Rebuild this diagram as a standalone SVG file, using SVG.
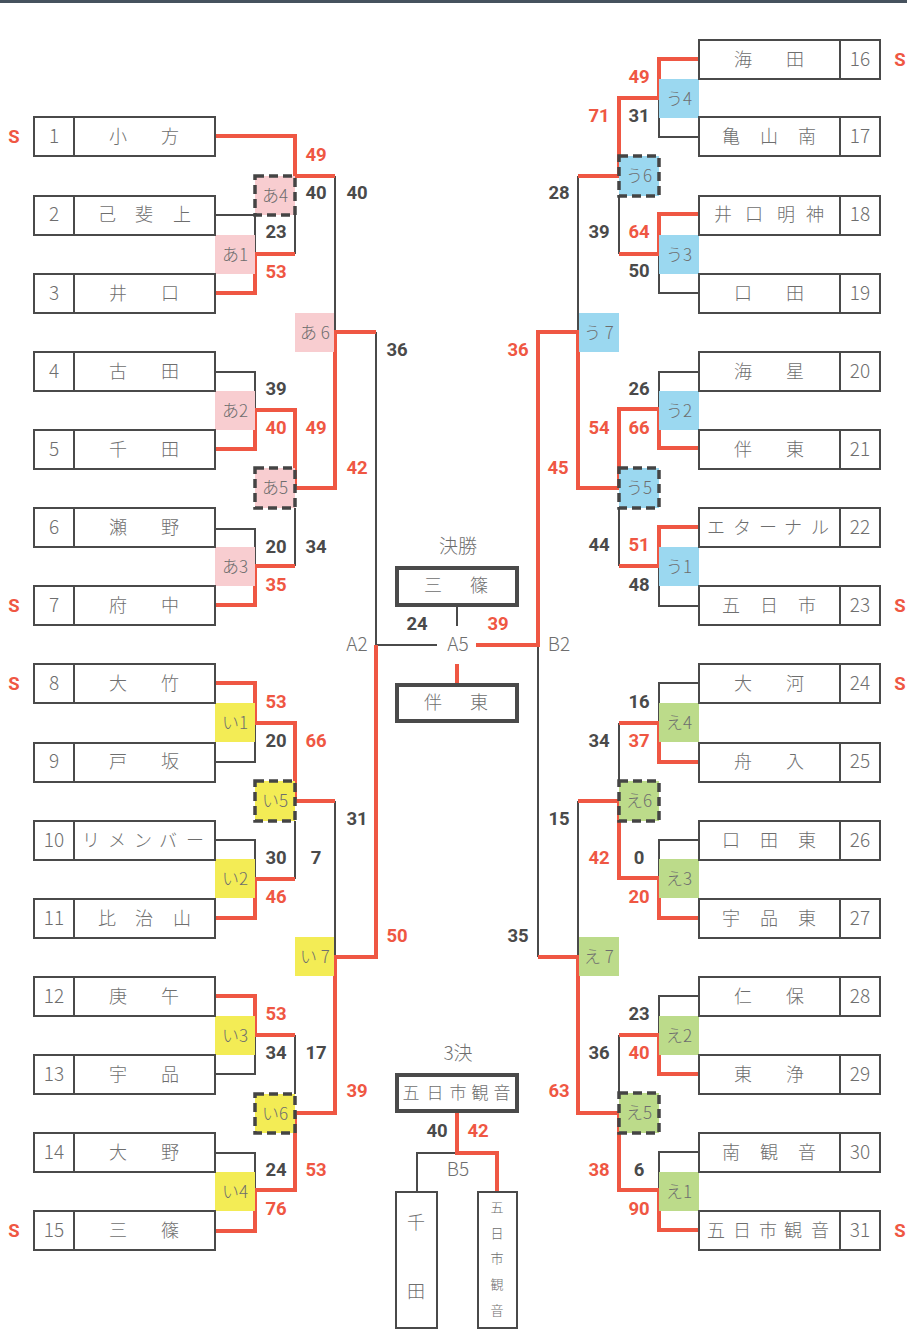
<svg xmlns="http://www.w3.org/2000/svg" width="907" height="1331" viewBox="0 0 907 1331">
<style>
.bx{fill:#fff;stroke:#4a4a4a;stroke-width:2}
.fb{fill:#fff;stroke:#4a4a4a;stroke-width:4}
.dv{stroke:#4a4a4a;stroke-width:2}
.ln{fill:none;stroke:#4a4a4a;stroke-width:2}
.rd{fill:none;stroke:#ef5743;stroke-width:4}
.nm{font-family:"Noto Sans CJK JP","Noto Sans",sans-serif;font-weight:300;font-size:18px;fill:#6e6e6e;text-anchor:middle}
.no{font-family:"Noto Sans CJK JP","Noto Sans",sans-serif;font-weight:300;font-size:19px;fill:#6e6e6e;text-anchor:middle}
.lb{font-family:"Noto Sans CJK JP","Noto Sans",sans-serif;font-weight:300;font-size:17px;fill:#6e6e6e;text-anchor:middle}
.sc{font-family:Roboto,"Liberation Sans",sans-serif;font-weight:bold;font-size:18.5px;fill:#4a4a4a;text-anchor:middle}
.sr{fill:#ef5743}
.s{font-family:Roboto,"Liberation Sans",sans-serif;font-weight:bold;font-size:18.5px;fill:#ef5743;text-anchor:middle}
.a{fill:#f8cdd0}.i{fill:#f3ec55}.u{fill:#9bd8f0}.e{fill:#bcdb8a}
.dsh{stroke:#444;stroke-width:3.5;stroke-dasharray:9 5}
</style>
<rect x="0" y="0" width="907" height="3" fill="#46525e"/>

<g id="connectors">
<path class="ln" d="M215 215H255V254M295 215V254M215 372H255V410M215 529H255V566M295 508V566M335 176V332M376 332V645M376 645H437M215 762H255V723M215 840H255V879M295 821V879M335 801V957M215 1074H255V1035M295 1035V1094M215 1153H255V1190"/>
<path class="ln" d="M699 137H659V98M699 293H659V254M619 196V254M578 176V332M699 372H659V409M699 606H659V566M619 508V566M538 645V957M699 683H659V723M619 723V780M699 840H659V878M578 801V957M699 996H659V1035M619 1035V1093M699 1152H659V1190"/>
<path class="ln" d="M457 607V626M457 1153H417V1192"/>
<path class="rd" d="M215 136H295V176H335M215 293H255V254H295M215 449H255V410H295V488H335V332H376M215 605H255V566H295M215 683H255V723H295V801H335M215 918H255V879H295M215 996H255V1035H295M215 1231H255V1190H295V1113H335V957H376V645"/>
<path class="rd" d="M699 59H659V98H619V176H578M699 214H659V254H619M699 448H659V409H619V488H578V332H538V645H476M699 527H659V566H619M699 762H659V723H619M699 918H659V878H619V801H578M699 1074H659V1035H619M699 1230H659V1190H619V1113H578V957H538"/>
<path class="rd" d="M457 664V685M457 1112V1153H497V1192"/>
</g>

<g id="match-labels">
<g id="a1"><rect class="a" x="215" y="235" width="40" height="39"/><text class="lb" x="235" y="261">あ1</text></g>
<g id="a2"><rect class="a" x="215" y="391" width="40" height="39"/><text class="lb" x="235" y="417">あ2</text></g>
<g id="a3"><rect class="a" x="215" y="547" width="40" height="39"/><text class="lb" x="235" y="573">あ3</text></g>
<g id="a4"><rect class="a dsh" x="255" y="176" width="40" height="39"/><text class="lb" x="275" y="202">あ4</text></g>
<g id="a5"><rect class="a dsh" x="255" y="468" width="40" height="40"/><text class="lb" x="275" y="494">あ5</text></g>
<g id="a6"><rect class="a" x="295" y="313" width="39" height="39"/><text class="lb" x="315" y="339">あ 6</text></g>
<g id="i1"><rect class="i" x="215" y="703" width="40" height="39"/><text class="lb" x="235" y="729">い1</text></g>
<g id="i2"><rect class="i" x="215" y="859" width="40" height="39"/><text class="lb" x="235" y="885">い2</text></g>
<g id="i3"><rect class="i" x="215" y="1016" width="40" height="39"/><text class="lb" x="235" y="1042">い3</text></g>
<g id="i4"><rect class="i" x="215" y="1172" width="40" height="39"/><text class="lb" x="235" y="1198">い4</text></g>
<g id="i5"><rect class="i dsh" x="255" y="781" width="40" height="40"/><text class="lb" x="275" y="807">い5</text></g>
<g id="i6"><rect class="i dsh" x="255" y="1094" width="40" height="39"/><text class="lb" x="275" y="1120">い6</text></g>
<g id="i7"><rect class="i" x="295" y="937" width="39" height="39"/><text class="lb" x="315" y="963">い 7</text></g>
<g id="u1"><rect class="u" x="659" y="547" width="40" height="39"/><text class="lb" x="679" y="573">う1</text></g>
<g id="u2"><rect class="u" x="659" y="391" width="40" height="39"/><text class="lb" x="679" y="417">う2</text></g>
<g id="u3"><rect class="u" x="659" y="235" width="40" height="39"/><text class="lb" x="679" y="261">う3</text></g>
<g id="u4"><rect class="u" x="659" y="79" width="40" height="39"/><text class="lb" x="679" y="105">う4</text></g>
<g id="u5"><rect class="u dsh" x="619" y="468" width="40" height="40"/><text class="lb" x="639" y="494">う5</text></g>
<g id="u6"><rect class="u dsh" x="619" y="156" width="40" height="40"/><text class="lb" x="639" y="182">う6</text></g>
<g id="u7"><rect class="u" x="579" y="313" width="40" height="39"/><text class="lb" x="599" y="339">う 7</text></g>
<g id="e1"><rect class="e" x="659" y="1172" width="40" height="39"/><text class="lb" x="679" y="1198">え1</text></g>
<g id="e2"><rect class="e" x="659" y="1016" width="40" height="39"/><text class="lb" x="679" y="1042">え2</text></g>
<g id="e3"><rect class="e" x="659" y="859" width="40" height="39"/><text class="lb" x="679" y="885">え3</text></g>
<g id="e4"><rect class="e" x="659" y="703" width="40" height="39"/><text class="lb" x="679" y="729">え4</text></g>
<g id="e5"><rect class="e dsh" x="619" y="1093" width="40" height="40"/><text class="lb" x="639" y="1119">え5</text></g>
<g id="e6"><rect class="e dsh" x="619" y="781" width="40" height="40"/><text class="lb" x="639" y="807">え6</text></g>
<g id="e7"><rect class="e" x="579" y="937" width="40" height="39"/><text class="lb" x="599" y="963">え 7</text></g>
</g>

<g id="teams-left">
<g id="t1"><rect class="bx" x="34" y="117" width="181" height="39"/><line class="dv" x1="74" y1="117" x2="74" y2="156"/><text class="no" x="54" y="143">1</text><text class="nm" x="118 170" y="143">小方</text></g>
<g id="t2"><rect class="bx" x="34" y="196" width="181" height="39"/><line class="dv" x1="74" y1="196" x2="74" y2="235"/><text class="no" x="54" y="221">2</text><text class="nm" x="107 144 182" y="221">己斐上</text></g>
<g id="t3"><rect class="bx" x="34" y="274" width="181" height="39"/><line class="dv" x1="74" y1="274" x2="74" y2="313"/><text class="no" x="54" y="300">3</text><text class="nm" x="118 170" y="300">井口</text></g>
<g id="t4"><rect class="bx" x="34" y="352" width="181" height="39"/><line class="dv" x1="74" y1="352" x2="74" y2="391"/><text class="no" x="54" y="378">4</text><text class="nm" x="118 170" y="378">古田</text></g>
<g id="t5"><rect class="bx" x="34" y="430" width="181" height="39"/><line class="dv" x1="74" y1="430" x2="74" y2="469"/><text class="no" x="54" y="456">5</text><text class="nm" x="118 170" y="456">千田</text></g>
<g id="t6"><rect class="bx" x="34" y="508" width="181" height="39"/><line class="dv" x1="74" y1="508" x2="74" y2="547"/><text class="no" x="54" y="534">6</text><text class="nm" x="118 170" y="534">瀬野</text></g>
<g id="t7"><rect class="bx" x="34" y="586" width="181" height="39"/><line class="dv" x1="74" y1="586" x2="74" y2="625"/><text class="no" x="54" y="612">7</text><text class="nm" x="118 170" y="612">府中</text></g>
<g id="t8"><rect class="bx" x="34" y="664" width="181" height="39"/><line class="dv" x1="74" y1="664" x2="74" y2="703"/><text class="no" x="54" y="690">8</text><text class="nm" x="118 170" y="690">大竹</text></g>
<g id="t9"><rect class="bx" x="34" y="743" width="181" height="39"/><line class="dv" x1="74" y1="743" x2="74" y2="782"/><text class="no" x="54" y="768">9</text><text class="nm" x="118 170" y="768">戸坂</text></g>
<g id="t10"><rect class="bx" x="34" y="821" width="181" height="39"/><line class="dv" x1="74" y1="821" x2="74" y2="860"/><text class="no" x="54" y="847">10</text><text class="nm" x="91 117 143 168 195" y="847">リメンバー</text></g>
<g id="t11"><rect class="bx" x="34" y="899" width="181" height="39"/><line class="dv" x1="74" y1="899" x2="74" y2="938"/><text class="no" x="54" y="925">11</text><text class="nm" x="107 144 182" y="925">比治山</text></g>
<g id="t12"><rect class="bx" x="34" y="977" width="181" height="39"/><line class="dv" x1="74" y1="977" x2="74" y2="1016"/><text class="no" x="54" y="1003">12</text><text class="nm" x="118 170" y="1003">庚午</text></g>
<g id="t13"><rect class="bx" x="34" y="1055" width="181" height="39"/><line class="dv" x1="74" y1="1055" x2="74" y2="1094"/><text class="no" x="54" y="1081">13</text><text class="nm" x="118 170" y="1081">宇品</text></g>
<g id="t14"><rect class="bx" x="34" y="1133" width="181" height="39"/><line class="dv" x1="74" y1="1133" x2="74" y2="1172"/><text class="no" x="54" y="1159">14</text><text class="nm" x="118 170" y="1159">大野</text></g>
<g id="t15"><rect class="bx" x="34" y="1211" width="181" height="39"/><line class="dv" x1="74" y1="1211" x2="74" y2="1250"/><text class="no" x="54" y="1237">15</text><text class="nm" x="118 170" y="1237">三篠</text></g>
</g>

<g id="teams-right">
<g id="t16"><rect class="bx" x="699" y="40" width="181" height="39"/><line class="dv" x1="840" y1="40" x2="840" y2="79"/><text class="no" x="860" y="66">16</text><text class="nm" x="743 795" y="66">海田</text></g>
<g id="t17"><rect class="bx" x="699" y="117" width="181" height="39"/><line class="dv" x1="840" y1="117" x2="840" y2="156"/><text class="no" x="860" y="143">17</text><text class="nm" x="731 769 807" y="143">亀山南</text></g>
<g id="t18"><rect class="bx" x="699" y="196" width="181" height="39"/><line class="dv" x1="840" y1="196" x2="840" y2="235"/><text class="no" x="860" y="221">18</text><text class="nm" x="723 754 786 815" y="221">井口明神</text></g>
<g id="t19"><rect class="bx" x="699" y="274" width="181" height="39"/><line class="dv" x1="840" y1="274" x2="840" y2="313"/><text class="no" x="860" y="300">19</text><text class="nm" x="743 795" y="300">口田</text></g>
<g id="t20"><rect class="bx" x="699" y="352" width="181" height="39"/><line class="dv" x1="840" y1="352" x2="840" y2="391"/><text class="no" x="860" y="378">20</text><text class="nm" x="743 795" y="378">海星</text></g>
<g id="t21"><rect class="bx" x="699" y="430" width="181" height="39"/><line class="dv" x1="840" y1="430" x2="840" y2="469"/><text class="no" x="860" y="456">21</text><text class="nm" x="743 795" y="456">伴東</text></g>
<g id="t22"><rect class="bx" x="699" y="508" width="181" height="39"/><line class="dv" x1="840" y1="508" x2="840" y2="547"/><text class="no" x="860" y="534">22</text><text class="nm" x="716 742 768 793 820" y="534">エターナル</text></g>
<g id="t23"><rect class="bx" x="699" y="586" width="181" height="39"/><line class="dv" x1="840" y1="586" x2="840" y2="625"/><text class="no" x="860" y="612">23</text><text class="nm" x="731 769 807" y="612">五日市</text></g>
<g id="t24"><rect class="bx" x="699" y="664" width="181" height="39"/><line class="dv" x1="840" y1="664" x2="840" y2="703"/><text class="no" x="860" y="690">24</text><text class="nm" x="743 795" y="690">大河</text></g>
<g id="t25"><rect class="bx" x="699" y="743" width="181" height="39"/><line class="dv" x1="840" y1="743" x2="840" y2="782"/><text class="no" x="860" y="768">25</text><text class="nm" x="743 795" y="768">舟入</text></g>
<g id="t26"><rect class="bx" x="699" y="821" width="181" height="39"/><line class="dv" x1="840" y1="821" x2="840" y2="860"/><text class="no" x="860" y="847">26</text><text class="nm" x="731 769 807" y="847">口田東</text></g>
<g id="t27"><rect class="bx" x="699" y="899" width="181" height="39"/><line class="dv" x1="840" y1="899" x2="840" y2="938"/><text class="no" x="860" y="925">27</text><text class="nm" x="731 769 807" y="925">宇品東</text></g>
<g id="t28"><rect class="bx" x="699" y="977" width="181" height="39"/><line class="dv" x1="840" y1="977" x2="840" y2="1016"/><text class="no" x="860" y="1003">28</text><text class="nm" x="743 795" y="1003">仁保</text></g>
<g id="t29"><rect class="bx" x="699" y="1055" width="181" height="39"/><line class="dv" x1="840" y1="1055" x2="840" y2="1094"/><text class="no" x="860" y="1081">29</text><text class="nm" x="743 795" y="1081">東浄</text></g>
<g id="t30"><rect class="bx" x="699" y="1133" width="181" height="39"/><line class="dv" x1="840" y1="1133" x2="840" y2="1172"/><text class="no" x="860" y="1159">30</text><text class="nm" x="731 769 807" y="1159">南観音</text></g>
<g id="t31"><rect class="bx" x="699" y="1211" width="181" height="39"/><line class="dv" x1="840" y1="1211" x2="840" y2="1250"/><text class="no" x="860" y="1237">31</text><text class="nm" x="716 742 768 793 820" y="1237">五日市観音</text></g>
</g>

<g id="seeds">
<text class="s" x="14" y="143">S</text><text class="s" x="14" y="612">S</text><text class="s" x="14" y="690">S</text><text class="s" x="14" y="1237">S</text>
<text class="s" x="900" y="66">S</text><text class="s" x="900" y="612">S</text><text class="s" x="900" y="690">S</text><text class="s" x="900" y="1237">S</text>
</g>

<g id="scores">
<text class="sc" x="276" y="238">23</text><text class="sc sr" x="276" y="278">53</text>
<text class="sc" x="276" y="395">39</text><text class="sc sr" x="276" y="434">40</text>
<text class="sc" x="276" y="553">20</text><text class="sc sr" x="276" y="591">35</text>
<text class="sc sr" x="276" y="708">53</text><text class="sc" x="276" y="747">20</text>
<text class="sc" x="276" y="864">30</text><text class="sc sr" x="276" y="903">46</text>
<text class="sc sr" x="276" y="1020">53</text><text class="sc" x="276" y="1059">34</text>
<text class="sc" x="276" y="1176">24</text><text class="sc sr" x="276" y="1215">76</text>
<text class="sc sr" x="316" y="161">49</text><text class="sc" x="316" y="199">40</text>
<text class="sc sr" x="316" y="434">49</text><text class="sc" x="316" y="553">34</text>
<text class="sc sr" x="316" y="747">66</text><text class="sc" x="316" y="864">7</text>
<text class="sc" x="316" y="1059">17</text><text class="sc sr" x="316" y="1176">53</text>
<text class="sc" x="357" y="199">40</text><text class="sc sr" x="357" y="474">42</text>
<text class="sc" x="357" y="825">31</text><text class="sc sr" x="357" y="1097">39</text>
<text class="sc" x="397" y="356">36</text><text class="sc sr" x="397" y="942">50</text>
<text class="sc sr" x="639" y="83">49</text><text class="sc" x="639" y="122">31</text>
<text class="sc sr" x="639" y="238">64</text><text class="sc" x="639" y="277">50</text>
<text class="sc" x="639" y="395">26</text><text class="sc sr" x="639" y="434">66</text>
<text class="sc sr" x="639" y="551">51</text><text class="sc" x="639" y="591">48</text>
<text class="sc" x="639" y="708">16</text><text class="sc sr" x="639" y="747">37</text>
<text class="sc" x="639" y="864">0</text><text class="sc sr" x="639" y="903">20</text>
<text class="sc" x="639" y="1020">23</text><text class="sc sr" x="639" y="1059">40</text>
<text class="sc" x="639" y="1176">6</text><text class="sc sr" x="639" y="1215">90</text>
<text class="sc sr" x="599" y="122">71</text><text class="sc" x="599" y="238">39</text>
<text class="sc sr" x="599" y="434">54</text><text class="sc" x="599" y="551">44</text>
<text class="sc" x="599" y="747">34</text><text class="sc sr" x="599" y="864">42</text>
<text class="sc" x="599" y="1059">36</text><text class="sc sr" x="599" y="1176">38</text>
<text class="sc" x="559" y="199">28</text><text class="sc sr" x="558" y="474">45</text>
<text class="sc" x="559" y="825">15</text><text class="sc sr" x="559" y="1097">63</text>
<text class="sc sr" x="518" y="356">36</text><text class="sc" x="518" y="942">35</text>
<text class="sc" x="417" y="630">24</text><text class="sc sr" x="498" y="630">39</text>
<text class="sc" x="437" y="1137">40</text><text class="sc sr" x="478" y="1137">42</text>
</g>

<g id="center-labels">
<text class="no" x="458" y="553">決勝</text>
<text class="no" x="357" y="651">A2</text>
<text class="no" x="458" y="651">A5</text>
<text class="no" x="559" y="651">B2</text>
<text class="no" x="458" y="1060">3決</text>
<text class="no" x="458" y="1176">B5</text>
</g>

<g id="final-top"><rect class="fb" x="397" y="568" width="120" height="37"/><text class="nm" x="433 479" y="592">三篠</text></g>
<g id="final-bottom"><rect class="fb" x="397" y="685" width="120" height="36"/><text class="nm" x="433 479" y="709">伴東</text></g>
<g id="third-winner"><rect class="fb" x="397" y="1075" width="120" height="36"/><text class="nm" x="411 435 458 480 502" y="1099" style="font-size:17px">五日市観音</text></g>
<g id="third-left"><rect class="bx" x="396" y="1192" width="41" height="136"/><text class="nm" x="416" y="1229">千</text><text class="nm" x="416" y="1298">田</text></g>
<g id="third-right"><rect class="bx" x="478" y="1192" width="39" height="136"/><text class="nm" x="497" y="1212" style="font-size:13px">五</text><text class="nm" x="497" y="1238" style="font-size:13px">日</text><text class="nm" x="497" y="1263" style="font-size:13px">市</text><text class="nm" x="497" y="1289" style="font-size:13px">観</text><text class="nm" x="497" y="1315" style="font-size:13px">音</text></g>
</svg>
